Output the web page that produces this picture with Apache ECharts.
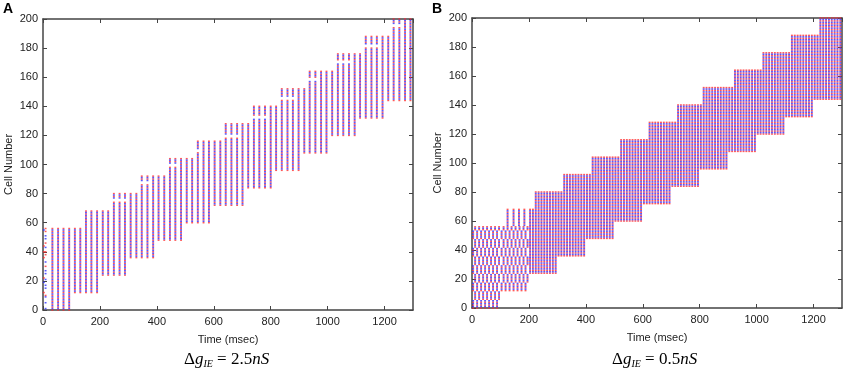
<!DOCTYPE html>
<html>
<head>
<meta charset="utf-8">
<script src="https://cdn.jsdelivr.net/npm/echarts@6/dist/echarts.min.js"></script>
<style>
  html, body { margin: 0; padding: 0; background: #fff; }
  #main { width: 844px; height: 369px; }
</style>
</head>
<body>
<div id="main"></div>
<script>
// Panel A: one volley every ~20 ms, each volley fires cells lo..hi
var aTimes = [33, 53, 72, 92, 112, 131, 151, 170, 190, 210, 229, 249, 269, 288, 308,
  328, 347, 367, 387, 406, 426, 446, 465, 485, 505, 524, 544, 564, 583, 603,
  623, 642, 662, 682, 701, 721, 741, 760, 780, 800, 819, 839, 859, 878, 898,
  918, 937, 957, 977, 996, 1016, 1036, 1055, 1075, 1095, 1114, 1134, 1154, 1173, 1193,
  1213, 1232, 1252, 1272, 1291];
var aLo = [0, 0, 0, 0, 12, 12, 12, 12, 12, 24, 24, 24, 24, 24, 36, 36, 36, 36, 36,
  48, 48, 48, 48, 48, 60, 60, 60, 60, 60, 72, 72, 72, 72, 72, 72, 84, 84, 84, 84, 84,
  96, 96, 96, 96, 96, 108, 108, 108, 108, 108, 120, 120, 120, 120, 120,
  132, 132, 132, 132, 132, 144, 144, 144, 144, 144];
var aHi = [56, 56, 56, 56, 56, 56, 68, 68, 68, 68, 68, 80, 80, 80, 80, 80, 92, 92, 92, 92, 92,
  104, 104, 104, 104, 104, 116, 116, 116, 116, 116, 128, 128, 128, 128, 128,
  140, 140, 140, 140, 140, 152, 152, 152, 152, 152, 164, 164, 164, 164, 164,
  176, 176, 176, 176, 176, 188, 188, 188, 188, 188, 200, 200, 200, 200];
// Panel A: volleys whose top cells split off (index into aTimes, first silent cell)
var aGapIdx = [11, 12, 13, 16, 17, 21, 22, 26, 31, 32, 33, 36, 37, 38, 41, 42, 43,
  46, 47, 51, 52, 53, 56, 57, 58, 61, 62];
var aGapCell = [75, 75, 75, 87, 87, 99, 99, 109, 119, 119, 119, 132, 132, 132, 145, 145, 145,
  158, 158, 170, 170, 170, 181, 181, 181, 195, 195];
// Panel A: scattered first spikes near t = 0
var aEarlyTimes = [3, 9];
var aEarlyCells = [[12, 19, 22, 36, 40, 44, 55],
  [1, 5, 9, 10, 15, 17, 21, 25, 27, 30, 33, 38, 40, 43, 46, 49, 51, 54, 56]];

// Panel B: dense columns every ~10 ms after 200 ms
var bTimes = [204, 214, 224, 234, 244, 254, 264, 274, 284, 294,
  304, 314, 324, 334, 344, 354, 364, 374, 384, 394,
  404, 414, 424, 434, 444, 454, 464, 474, 484, 494,
  504, 514, 524, 534, 544, 554, 564, 574, 584, 594,
  604, 614, 624, 634, 644, 654, 664, 674, 684, 694,
  704, 714, 724, 734, 744, 754, 764, 774, 784, 794,
  804, 814, 824, 834, 844, 854, 864, 874, 884, 894,
  904, 914, 924, 934, 944, 954, 964, 974, 984, 994,
  1004, 1014, 1024, 1034, 1044, 1054, 1064, 1074, 1084, 1094,
  1104, 1114, 1124, 1134, 1144, 1154, 1164, 1174, 1184, 1194,
  1204, 1214, 1224, 1234, 1244, 1254, 1264, 1274, 1284, 1294];
var bHiFrom = [0, 220, 320, 420, 520, 618, 716, 812, 916, 1018, 1118, 1218];
var bHiVal = [68, 80, 92, 104, 116, 128, 140, 152, 164, 176, 188, 200];
var bLoFrom = [0, 298, 396, 496, 596, 696, 796, 898, 998, 1098, 1198];
var bLoVal = [24, 36, 48, 60, 72, 84, 96, 108, 120, 132, 144];
// Panel B: checkerboard before 200 ms (bands of 6 cells firing in alternation)
var bCheck1P = [4, 18, 32, 46, 60, 74, 88];
var bCheck1Q = [11, 25, 39, 53, 67, 81, 95];
var bCheck2P = [104, 118, 132, 146, 160, 174, 188];
var bCheck2Q = [111, 125, 139, 153, 167, 181, 195];
var bandP = [0, 12, 24, 36, 48];
var bandQ = [6, 18, 30, 42, 54];
var bTopTimes = [125, 146, 165, 184];

var xTicks = [0, 200, 400, 600, 800, 1000, 1200];
var yTicks = [0, 20, 40, 60, 80, 100, 120, 140, 160, 180, 200];

var RED = '#ff2e2e', BLUE = '#2e2eff';

function addCell(set, t, c) {
  if (c % 2 === 0) set.red.push([t, c]); else set.blue.push([t, c]);
}
function addRange(set, t, lo, hi, skip) {
  for (var c = lo; c <= hi; c++) {
    if (skip !== undefined && (c === skip || c === skip + 1)) continue;
    addCell(set, t, c);
  }
}
function stepVal(from, vals, t) {
  var v = vals[0];
  for (var i = 0; i < from.length; i++) if (t >= from[i]) v = vals[i];
  return v;
}
function addBands(set, times, starts, lo, hi) {
  times.forEach(function (t) {
    starts.forEach(function (s) {
      addRange(set, t, Math.max(s, lo), Math.min(s + 5, hi));
    });
  });
}

var A = {red: [], blue: []};
aEarlyTimes.forEach(function (t, i) {
  aEarlyCells[i].forEach(function (c) { addCell(A, t, c); });
});
aTimes.forEach(function (t, i) {
  var g = aGapIdx.indexOf(i);
  addRange(A, t, aLo[i], aHi[i], g >= 0 ? aGapCell[g] : undefined);
});

var B = {red: [], blue: []};
addBands(B, bCheck1P, bandP, 0, 56);
addBands(B, bCheck1Q, bandQ, 0, 56);
addBands(B, bCheck2P, bandP, 12, 56);
addBands(B, bCheck2Q, bandQ, 12, 56);
bTopTimes.forEach(function (t) { addRange(B, t, 57, 68); });
bTimes.forEach(function (t) {
  addRange(B, t, stepVal(bLoFrom, bLoVal, t), stepVal(bHiFrom, bHiVal, t));
});

var AX = '#444';
var labelFont = {color: '#222', fontSize: 11, fontFamily: 'Liberation Sans'};

function xAx(grid, top) {
  return {
    type: 'value', gridIndex: grid, position: top ? 'top' : 'bottom',
    min: 0, max: 1300, interval: 200,
    name: top ? '' : 'Time (msec)', nameLocation: 'middle', nameGap: 24,
    nameTextStyle: labelFont,
    axisLine: {show: true, onZero: false, lineStyle: {color: AX, width: 1.5}},
    axisTick: {show: true, inside: true, length: 4, lineStyle: {color: AX}},
    axisLabel: Object.assign({show: !top, margin: 6, showMaxLabel: false,
      formatter: function (v) { return xTicks.indexOf(v) >= 0 ? String(v) : ''; }}, labelFont),
    splitLine: {show: false}
  };
}
function yAx(grid, right) {
  return {
    type: 'value', gridIndex: grid, position: right ? 'right' : 'left',
    min: 0, max: 200, interval: 20,
    name: right ? '' : 'Cell Number', nameLocation: 'middle', nameGap: 29,
    nameTextStyle: labelFont,
    axisLine: {show: true, onZero: false, lineStyle: {color: AX, width: 1.5}},
    axisTick: {show: true, inside: true, length: 4, lineStyle: {color: AX}},
    axisLabel: Object.assign({show: !right, margin: 5,
      formatter: function (v) { return yTicks.indexOf(v) >= 0 ? String(v) : ''; }}, labelFont),
    splitLine: {show: false}
  };
}
function dots(xi, yi, data, color) {
  return {
    type: 'scatter', xAxisIndex: xi, yAxisIndex: yi, data: data,
    symbol: 'rect', symbolSize: [1.9, 1.5], large: true, largeThreshold: 1000,
    itemStyle: {color: color}, silent: true
  };
}

var capRich = {
  n: {fontFamily: 'Liberation Serif', fontSize: 17, lineHeight: 20, color: '#111'},
  i: {fontFamily: 'Liberation Serif', fontStyle: 'italic', fontSize: 17, lineHeight: 20, color: '#111'},
  s: {fontFamily: 'Liberation Serif', fontStyle: 'italic', fontSize: 10, lineHeight: 20,
      verticalAlign: 'bottom', color: '#111'}
};
function caption(x, val) {
  return {
    type: 'text', left: x, top: 351,
    style: {text: '{n|Δ}{i|g}{s|IE}{n| = ' + val + '}{i|nS}', rich: capRich}
  };
}

var chart = echarts.init(document.getElementById('main'), null, {renderer: 'canvas'});
chart.setOption({
  animation: false,
  backgroundColor: '#fff',
  grid: [
    {left: 43, top: 19, width: 370, height: 291},
    {left: 472, top: 18, width: 370, height: 290}
  ],
  xAxis: [xAx(0, false), xAx(0, true), xAx(1, false), xAx(1, true)],
  yAxis: [yAx(0, false), yAx(0, true), yAx(1, false), yAx(1, true)],
  series: [
    dots(0, 0, A.red, RED), dots(0, 0, A.blue, BLUE),
    dots(2, 2, B.red, RED), dots(2, 2, B.blue, BLUE)
  ],
  graphic: [
    {type: 'text', left: 3, top: 2, style: {text: 'A', fontFamily: 'Liberation Sans',
      fontWeight: 'bold', fontSize: 14, fill: '#000'}},
    {type: 'text', left: 432, top: 2, style: {text: 'B', fontFamily: 'Liberation Sans',
      fontWeight: 'bold', fontSize: 14, fill: '#000'}},
    caption(184, '2.5'),
    caption(612, '0.5')
  ]
});
</script>
</body>
</html>
